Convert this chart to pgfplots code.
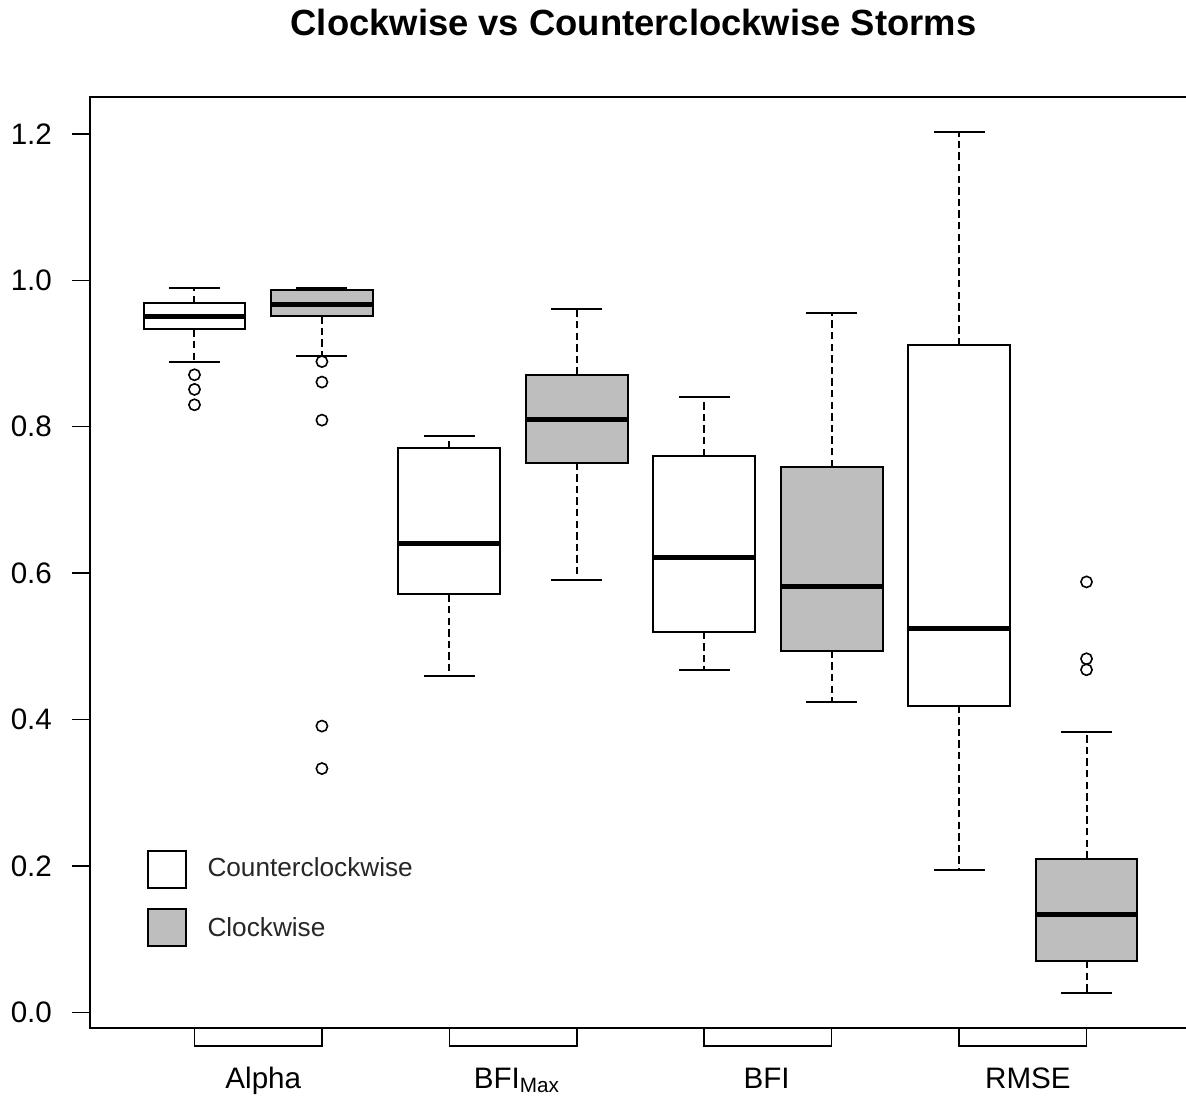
\documentclass[border=0pt]{standalone}
\usepackage{pgfplots}
\pgfplotsset{compat=1.18}
\usepgfplotslibrary{statistics}
\usepackage{fontspec}
\setmainfont{Liberation Sans}
\definecolor{Rgrey}{HTML}{BEBEBE}
\pgfplotsset{
  boxplot/draw/lower whisker/.code={%
    \draw[/pgfplots/boxplot/every whisker/.try, dash pattern=on 3.7pt off 2.1pt]
      (boxplot cs:\pgfplotsboxplotvalue{lower quartile}) -- (boxplot cs:\pgfplotsboxplotvalue{lower whisker});
    \draw[/pgfplots/boxplot/every whisker/.try]
      (boxplot whisker cs:\pgfplotsboxplotvalue{lower whisker},0) -- (boxplot whisker cs:\pgfplotsboxplotvalue{lower whisker},1);
  },
  boxplot/draw/upper whisker/.code={%
    \draw[/pgfplots/boxplot/every whisker/.try, dash pattern=on 3.7pt off 2.1pt]
      (boxplot cs:\pgfplotsboxplotvalue{upper quartile}) -- (boxplot cs:\pgfplotsboxplotvalue{upper whisker});
    \draw[/pgfplots/boxplot/every whisker/.try]
      (boxplot whisker cs:\pgfplotsboxplotvalue{upper whisker},0) -- (boxplot whisker cs:\pgfplotsboxplotvalue{upper whisker},1);
  },
}
\begin{document}
\begin{tikzpicture}
\begin{axis}[
  name=ax,
  at={(0pt,0pt)}, anchor=south west,
  scale only axis, width=550.5pt, height=465.5pt,
  xmin=0.18, xmax=8.82, ymin=-0.0215, ymax=1.2505,
  boxplot/draw direction=y,
  boxplot/box extend=0.8,
  boxplot/whisker extend=0.4,
  boxplot/every box/.style={draw=black, line width=1pt},
  boxplot/every median/.style={draw=black, line width=2.5pt},
  boxplot/every whisker/.style={draw=black, line width=1pt},
  xtick=\empty,
  ytick={0,0.2,0.4,0.6,0.8,1.0,1.2},
  ytick pos=left, tick align=outside, major tick length=9pt,
  tick style={black, line width=0.75pt},
  axis line style={black, line width=0.8pt},
  yticklabel style={font=\fontsize{14.8}{17}\selectfont, anchor=east, xshift=-6.5pt,
    /pgf/number format/.cd, fixed, fixed zerofill, precision=1, assume math mode=true},
  clip=false,
]
% Alpha
\addplot[black, mark=o, mark size=2.8pt, mark options={solid, line width=0.8pt},
  boxplot/every box/.append style={fill=white},
  boxplot prepared={draw position=1, lower whisker=0.889, lower quartile=0.933,
    median=0.951, upper quartile=0.969, upper whisker=0.989}]
  table[row sep=\\, y index=0] {y\\0.871\\0.851\\0.830\\};
\addplot[black, mark=o, mark size=2.8pt, mark options={solid, line width=0.8pt},
  boxplot/every box/.append style={fill=Rgrey},
  boxplot prepared={draw position=2, lower whisker=0.897, lower quartile=0.951,
    median=0.967, upper quartile=0.987, upper whisker=0.989}]
  table[row sep=\\, y index=0] {y\\0.889\\0.861\\0.809\\0.391\\0.333\\};
% BFI max
\addplot[black, mark=o, mark size=2.8pt, mark options={solid, line width=0.8pt},
  boxplot/every box/.append style={fill=white},
  boxplot prepared={draw position=3, lower whisker=0.460, lower quartile=0.571,
    median=0.640, upper quartile=0.771, upper whisker=0.788}]
  coordinates {};
\addplot[black, mark=o, mark size=2.8pt, mark options={solid, line width=0.8pt},
  boxplot/every box/.append style={fill=Rgrey},
  boxplot prepared={draw position=4, lower whisker=0.591, lower quartile=0.751,
    median=0.810, upper quartile=0.871, upper whisker=0.961}]
  coordinates {};
% BFI
\addplot[black, mark=o, mark size=2.8pt, mark options={solid, line width=0.8pt},
  boxplot/every box/.append style={fill=white},
  boxplot prepared={draw position=5, lower whisker=0.468, lower quartile=0.520,
    median=0.622, upper quartile=0.760, upper whisker=0.841}]
  coordinates {};
\addplot[black, mark=o, mark size=2.8pt, mark options={solid, line width=0.8pt},
  boxplot/every box/.append style={fill=Rgrey},
  boxplot prepared={draw position=6, lower whisker=0.424, lower quartile=0.494,
    median=0.582, upper quartile=0.745, upper whisker=0.956}]
  coordinates {};
% RMSE
\addplot[black, mark=o, mark size=2.8pt, mark options={solid, line width=0.8pt},
  boxplot/every box/.append style={fill=white},
  boxplot prepared={draw position=7, lower whisker=0.195, lower quartile=0.419,
    median=0.524, upper quartile=0.911, upper whisker=1.203}]
  coordinates {};
\addplot[black, mark=o, mark size=2.8pt, mark options={solid, line width=0.8pt},
  boxplot/every box/.append style={fill=Rgrey},
  boxplot prepared={draw position=8, lower whisker=0.026, lower quartile=0.070,
    median=0.134, upper quartile=0.210, upper whisker=0.383}]
  table[row sep=\\, y index=0] {y\\0.588\\0.483\\0.468\\};

% category brackets
\draw[black, line width=0.8pt] (axis cs:1,-0.0215) -- ([yshift=-9pt]axis cs:1,-0.0215) -- ([yshift=-9pt]axis cs:2,-0.0215) -- (axis cs:2,-0.0215);
\draw[black, line width=0.8pt] (axis cs:3,-0.0215) -- ([yshift=-9pt]axis cs:3,-0.0215) -- ([yshift=-9pt]axis cs:4,-0.0215) -- (axis cs:4,-0.0215);
\draw[black, line width=0.8pt] (axis cs:5,-0.0215) -- ([yshift=-9pt]axis cs:5,-0.0215) -- ([yshift=-9pt]axis cs:6,-0.0215) -- (axis cs:6,-0.0215);
\draw[black, line width=0.8pt] (axis cs:7,-0.0215) -- ([yshift=-9pt]axis cs:7,-0.0215) -- ([yshift=-9pt]axis cs:8,-0.0215) -- (axis cs:8,-0.0215);
\node[anchor=base, inner sep=0pt, font=\fontsize{14.8}{17}\selectfont] at ([yshift=-30pt]axis cs:1.54,-0.0215) {Alpha};
\node[anchor=base, inner sep=0pt, font=\fontsize{14.8}{17}\selectfont] at ([yshift=-30pt]axis cs:3.53,-0.0215) {BFI\textsubscript{Max}};
\node[anchor=base, inner sep=0pt, font=\fontsize{14.8}{17}\selectfont] at ([yshift=-30pt]axis cs:5.49,-0.0215) {BFI};
\node[anchor=base, inner sep=0pt, font=\fontsize{14.8}{17}\selectfont] at ([yshift=-30pt]axis cs:7.54,-0.0215) {RMSE};

% legend
\draw[black, line width=1pt, fill=white] (axis cs:0.639,0.2203) rectangle (axis cs:0.937,0.1697);
\draw[black, line width=1pt, fill=Rgrey] (axis cs:0.639,0.1409) rectangle (axis cs:0.937,0.0903);
\node[anchor=base west, inner sep=0pt, text=black!85, font=\fontsize{13.1}{15}\selectfont] at (axis cs:1.099,0.186) {Counterclockwise};
\node[anchor=base west, inner sep=0pt, text=black!85, font=\fontsize{13.1}{15}\selectfont] at (axis cs:1.099,0.104) {Clockwise};
\end{axis}
\node[anchor=base, inner sep=0pt, font=\bfseries\fontsize{18.2}{21}\selectfont] at ([xshift=271.75pt, yshift=496pt]ax.south west) {Clockwise vs Counterclockwise Storms};
\pgfresetboundingbox
\path ([xshift=-45pt, yshift=-35.5pt]ax.south west) rectangle ([xshift=548pt, yshift=514pt]ax.south west);
\end{tikzpicture}
\end{document}
